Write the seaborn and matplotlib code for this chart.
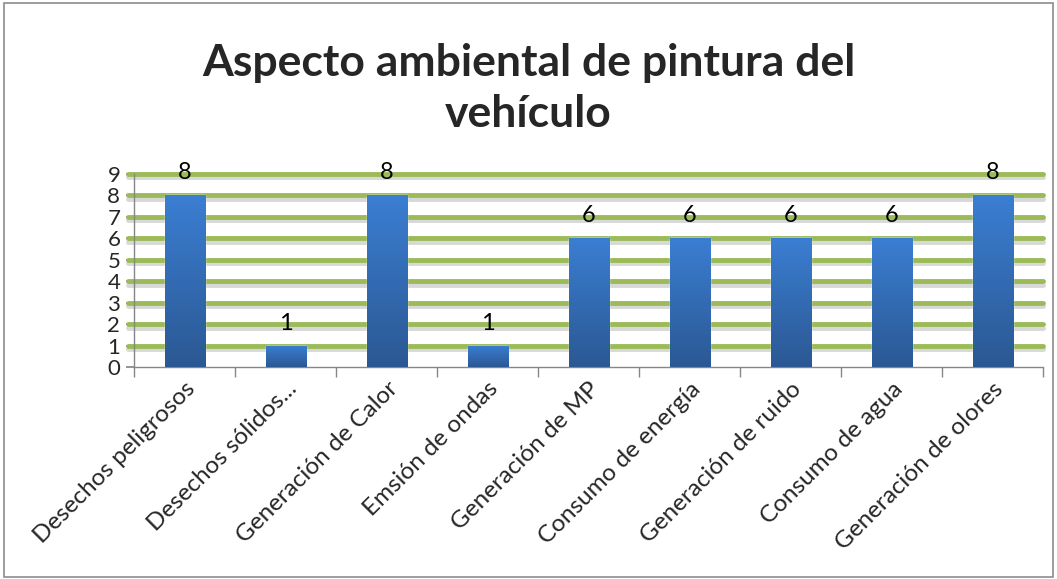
import numpy as np
import pandas as pd
import matplotlib
matplotlib.use("Agg")
import matplotlib.pyplot as plt
import matplotlib.patheffects as pe
from matplotlib.patches import Rectangle
import seaborn as sns

categories = ["Desechos peligrosos", "Desechos sólidos...", "Generación de Calor",
              "Emsión de ondas", "Generación de MP", "Consumo de energía",
              "Generación de ruido", "Consumo de agua", "Generación de olores"]
values = [8, 1, 8, 1, 6, 6, 6, 6, 8]
yticks = list(range(0, 10))
title = "Aspecto ambiental de pintura del\nvehículo"

sns.set_theme(style="white")
plt.rcParams['font.family'] = ['Lato', 'DejaVu Sans']

df = pd.DataFrame({"cat": categories, "val": values})

fig = plt.figure(figsize=(10.57, 5.79), dpi=100)
ax = fig.add_axes([0.127, 0.366, 0.860, 0.334])

sns.barplot(data=df, x="cat", y="val", color="#3A7BCB", width=0.4, ax=ax,
            saturation=1, zorder=3)

ax.set_ylim(0, 9)
ax.set_xlim(-0.5, len(categories) - 0.5)
ax.set_yticks(yticks)
ax.set_yticklabels([str(t) for t in yticks], fontsize=16)

# gradient fill on bars
grad = np.linspace(0, 1, 256).reshape(-1, 1)
cmap = matplotlib.colors.LinearSegmentedColormap.from_list("g", ["#2B5893", "#3B7ED2"])
for p in ax.patches:
    x0, y0 = p.get_x(), p.get_y()
    w, h = p.get_width(), p.get_height()
    im = ax.imshow(grad, cmap=cmap, aspect="auto", origin="lower",
                   extent=[x0, x0 + w, y0, y0 + h], zorder=4)
    im.set_clip_path(p)
ax.set_xlim(-0.5, len(categories) - 0.5)
ax.set_ylim(0, 9)

# green gridlines with shadow
for t in yticks[1:]:
    ax.axhline(t, color="#9BBB59", lw=3.5, zorder=2, xmin=-0.007, clip_on=False,
               path_effects=[pe.SimpleLineShadow(offset=(0, -2.5), shadow_color="#909090", alpha=0.35),
                             pe.Normal()])

# data labels
for i, v in enumerate(values):
    ax.text(i, v + 1.05, str(v), ha="center", va="center", fontsize=17, color="black", zorder=6)

# axes styling
for s in ["top", "right"]:
    ax.spines[s].set_visible(False)
ax.spines["left"].set_color("#868686")
ax.spines["bottom"].set_color("#868686")
ax.spines["left"].set_linewidth(1)
ax.spines["bottom"].set_linewidth(1)

ax.set_xticks(np.arange(len(categories)))
ax.set_xticklabels(categories, rotation=45, ha="right", rotation_mode="anchor", fontsize=17.5)
ax.tick_params(axis="x", length=0, pad=8)
ax.tick_params(axis="y", length=6, color="#868686", left=True, pad=4)
# category boundary ticks
ax.set_xticks(np.arange(len(categories) + 1) - 0.5, minor=True)
ax.tick_params(axis="x", which="minor", length=7, color="#868686", bottom=True)
ax.set_xlabel("")
ax.set_ylabel("")

fig.text(0.5, 0.847, title, ha="center", va="center", fontsize=32, fontweight="bold",
         linespacing=1.35)

fig.patches.append(Rectangle((0.004, 0.004), 0.992, 0.99, transform=fig.transFigure,
                             fill=False, edgecolor="#8C8C8C", lw=1.2))

fig.savefig("out.png", dpi=100)
